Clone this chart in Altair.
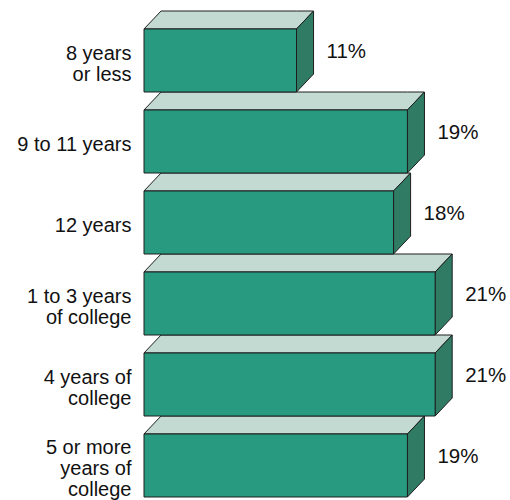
import altair as alt
import pandas as pd

categories = ["8 years\nor less", "9 to 11 years", "12 years",
              "1 to 3 years\nof college", "4 years of\ncollege",
              "5 or more\nyears of\ncollege"]
values = [11, 19, 18, 21, 21, 19]

DX = 1.23   # depth in percent units
DY = 0.222  # depth in slot units
LINE = 21.0 / 81.0  # line height in slot units

front_rows, top_rows, side_rows, lab_rows = [], [], [], []
for i, (c, v) in enumerate(zip(categories, values)):
    front_rows.append({"bar": i, "fx": 0, "fx2": v, "fy": i + DY, "fy2": i + 1})
    for (xx, yy, yy2) in [(0, i + DY, i + DY), (DX, i + DY, i),
                          (v, i + DY, i), (v + DX, i, i)]:
        top_rows.append({"bar": i, "tx": xx, "ty": yy, "ty2": yy2})
    for (yy, xx, xx2) in [(i, v + DX, v + DX), (i + DY, v, v + DX),
                          (i + 1 - DY, v, v + DX), (i + 1, v, v)]:
        side_rows.append({"bar": i, "sy": yy, "sx": xx, "sx2": xx2})
    n = c.count("\n") + 1
    lab_rows.append({"cat": c, "pct": f"{v}%", "xp": v + DX,
                     "yc": i + DY + (1 - DY) / 2 - (n - 1) * LINE / 2,
                     "yb": i + 0.5})

front = pd.DataFrame(front_rows)
top = pd.DataFrame(top_rows)
side = pd.DataFrame(side_rows)
labs = pd.DataFrame(lab_rows)

xs = alt.Scale(domain=[0, 26.4], nice=False, zero=False)
ys = alt.Scale(domain=[0, 6], nice=False, zero=False, reverse=True)

EDGE = "#1e1e1e"

front_layer = alt.Chart(front).mark_rect(
    fill="#279a80", stroke=EDGE, strokeWidth=1
).encode(
    x=alt.X("fx:Q", scale=xs, axis=None), x2="fx2:Q",
    y=alt.Y("fy:Q", scale=ys, axis=None), y2="fy2:Q",
)

top_layer = alt.Chart(top).mark_area(
    color="#c2dad2", stroke=EDGE, strokeWidth=1, orient="vertical", opacity=1
).encode(
    x=alt.X("tx:Q", scale=xs, axis=None),
    y=alt.Y("ty:Q", scale=ys, axis=None), y2="ty2:Q",
    detail="bar:N",
)

side_layer = alt.Chart(side).mark_area(
    color="#2f7b64", stroke=EDGE, strokeWidth=1, orient="horizontal", opacity=1
).encode(
    y=alt.Y("sy:Q", scale=ys, axis=None),
    x=alt.X("sx:Q", scale=xs, axis=None), x2="sx2:Q",
    detail="bar:N",
)

pct_layer = alt.Chart(labs).mark_text(
    align="left", baseline="middle", dx=13, fontSize=20.5,
    font="Liberation Sans", color="#111111"
).encode(
    x=alt.X("xp:Q", scale=xs, axis=None),
    y=alt.Y("yb:Q", scale=ys, axis=None),
    text="pct:N",
)

cat_layer = alt.Chart(labs).mark_text(
    align="right", baseline="middle", dy=4, fontSize=20, lineHeight=21,
    font="Liberation Sans", color="#111111", lineBreak="\n"
).encode(
    x=alt.value(-12.5),
    y=alt.Y("yc:Q", scale=ys, axis=None),
    text="cat:N",
)

chart = alt.layer(top_layer, side_layer, front_layer, pct_layer, cat_layer).properties(
    width=366, height=486,
    autosize=alt.AutoSizeParams(type="none"),
    padding={"left": 144, "top": 11, "right": 0, "bottom": 3},
    background="white",
).configure_view(stroke=None)

chart.save("out.html", embed_options={"renderer": "svg", "actions": False})
